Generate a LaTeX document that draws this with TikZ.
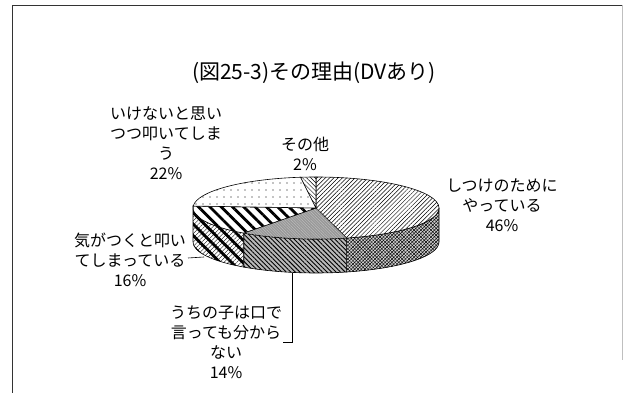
\documentclass[tikz,border=0pt]{standalone}
\usepackage{fontspec}
\setmainfont{Noto Sans CJK JP}
\usetikzlibrary{patterns.meta,calc}
\newcommand{\lblfont}{\fontsize{16pt}{20pt}\selectfont}
\newcommand{\ttlfont}{\fontsize{21pt}{24pt}\selectfont}
\tikzset{
  edge/.style={draw=black,line width=0.6pt},
  lbl/.style={font=\lblfont,align=center,inner sep=0pt},
  leader/.style={draw=black,line width=0.6pt},
  sFortySixTop/.style={edge,fill=white,postaction={pattern={Lines[angle=45,distance=3pt,line width=0.5pt]}}},
  sFortySixSide/.style={edge,fill=gray!35,postaction={pattern={Lines[angle=45,distance=2.4pt,line width=0.5pt]}},postaction={pattern={Lines[angle=-45,distance=2.4pt,line width=0.4pt]}}},
  sFourteenTop/.style={edge,fill=gray!80,postaction={pattern={Lines[angle=-45,distance=2pt,line width=0.3pt]},pattern color=gray!45}},
  sFourteenSide/.style={edge,fill=gray!55,postaction={pattern={Lines[angle=-45,distance=3.2pt,line width=0.9pt]}}},
  sSixteenTop/.style={edge,fill=white,postaction={pattern={Lines[angle=-45,distance=8pt,line width=2.8pt]}}},
  sSixteenSide/.style={edge,fill=white,postaction={pattern={Lines[angle=-45,distance=8pt,line width=2.8pt]}},postaction={pattern={Lines[angle=45,distance=3pt,line width=0.3pt]}}},
  sTwentyTwo/.style={edge,fill=white,postaction={pattern={Dots[distance=7pt,radius=0.55pt]}}},
  sTwo/.style={edge,fill=white,postaction={pattern={Lines[angle=-45,distance=3pt,line width=0.5pt]}}},
}
\begin{document}
\begin{tikzpicture}[x=1pt,y=1pt]
\useasboundingbox (0,0) rectangle (624,393);
% frame
\draw[line width=0.8pt,black!80] (12,0) -- (12,388) -- (622,388);
\draw[line width=0.6pt,black!25] (622,388) -- (622,33);
% pie
\coordinate (C) at (316,185);
\def\rx{123pt}\def\ry{31pt}
% sides
\path[sFortySixSide] ($(C)+(-75.6:123pt and 31pt)$) arc[start angle=-75.6,end angle=0,x radius=\rx,y radius=\ry] -- ++(0,-34) arc[start angle=0,end angle=-75.6,x radius=\rx,y radius=\ry] -- cycle;
\path[sFourteenSide] ($(C)+(-126:123pt and 31pt)$) arc[start angle=-126,end angle=-75.6,x radius=\rx,y radius=\ry] -- ++(0,-34) arc[start angle=-75.6,end angle=-126,x radius=\rx,y radius=\ry] -- cycle;
\path[sSixteenSide] ($(C)+(-180:123pt and 31pt)$) arc[start angle=-180,end angle=-126,x radius=\rx,y radius=\ry] -- ++(0,-34) arc[start angle=-126,end angle=-180,x radius=\rx,y radius=\ry] -- cycle;
% top
\path[sFortySixTop] (C) -- ($(C)+(90:123pt and 31pt)$) arc[start angle=90,end angle=-75.6,x radius=\rx,y radius=\ry] -- cycle;
\path[sFourteenTop] (C) -- ($(C)+(-75.6:123pt and 31pt)$) arc[start angle=-75.6,end angle=-126,x radius=\rx,y radius=\ry] -- cycle;
\path[sSixteenTop] (C) -- ($(C)+(-126:123pt and 31pt)$) arc[start angle=-126,end angle=-183.6,x radius=\rx,y radius=\ry] -- cycle;
\path[sTwentyTwo] (C) -- ($(C)+(176.4:123pt and 31pt)$) arc[start angle=176.4,end angle=97.2,x radius=\rx,y radius=\ry] -- cycle;
\path[sTwo] (C) -- ($(C)+(97.2:123pt and 31pt)$) arc[start angle=97.2,end angle=90,x radius=\rx,y radius=\ry] -- cycle;
% title
\node[font=\ttlfont,inner sep=0pt] (title) at (314,320) {(図25-3)その理由(DVあり)};
% labels
\node[lbl] (l46) at (502,187.5) {しつけのために\\やっている\\46\%};
\node[lbl] (l2) at (305,239) {その他\\2\%};
\node[lbl] (l22) at (166,250) {いけないと思い\\つつ叩いてしま\\う\\22\%};
\node[lbl] (l16) at (130,133) {気がつくと叩い\\てしまっている\\16\%};
\node[lbl] (l14) at (226,51) {うちの子は口で\\言っても分から\\ない\\14\%};
% leaders
\coordinate (p16) at (204,136);
\draw[leader] (188,135) -- (p16);
\coordinate (p14) at (292,120);
\coordinate (k14) at (292,51);
\draw[leader] (p14) -- (k14) -- (283,51);
\end{tikzpicture}
\end{document}
